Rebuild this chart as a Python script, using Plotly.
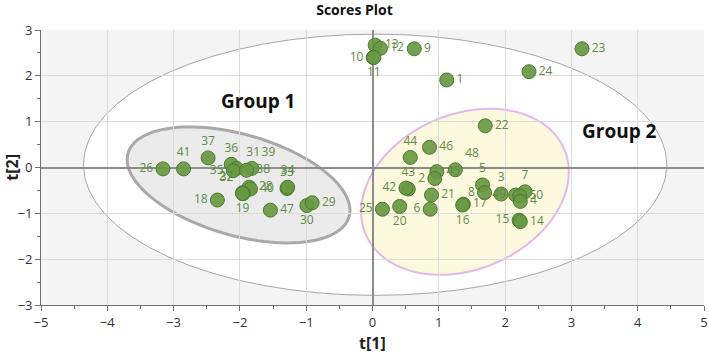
import numpy as np
import plotly.graph_objects as go

# ---- data ----
labels = ["26", "41", "37", "36", "31", "35", "39", "38", "33", "34", "28", "40", "27", "32", "19", "18", "47", "30", "29",
          "22", "44", "46", "48", "45", "2", "43", "42", "21", "25", "20", "6", "17", "16", "5", "8", "3", "49", "7", "50", "4", "15", "14",
          "13", "12", "10", "11", "9", "1", "24", "23"]
t1 = [-3.16, -2.85, -2.48, -2.13, -2.05, -2.10, -1.82, -1.90, -1.29, -1.28, -1.86, -1.84, -1.96, -1.95, -1.96, -2.34, -1.54, -0.99, -0.91,
      1.70, 0.57, 0.86, 1.25, 0.97, 0.94, 0.54, 0.505, 0.89, 0.15, 0.41, 0.87, 1.37, 1.36, 1.66, 1.69, 1.94, 2.16, 2.30, 2.22, 2.23, 2.21, 2.23,
      0.04, 0.12, 0.01, 0.02, 0.63, 1.12, 2.36, 3.16]
t2 = [-0.03, -0.03, 0.21, 0.07, -0.02, -0.07, -0.02, -0.06, -0.46, -0.43, -0.43, -0.47, -0.55, -0.57, -0.57, -0.71, -0.93, -0.83, -0.77,
      0.91, 0.22, 0.44, -0.05, -0.09, -0.24, -0.47, -0.45, -0.60, -0.91, -0.85, -0.91, -0.80, -0.82, -0.38, -0.55, -0.58, -0.60, -0.53, -0.62, -0.74, -1.15, -1.18,
      2.67, 2.60, 2.40, 2.40, 2.59, 1.91, 2.09, 2.59]

x_ticks = [-5, -4, -3, -2, -1, 0, 1, 2, 3, 4, 5]
y_ticks = [-3, -2, -1, 0, 1, 2, 3]

# label placement (style)
text_pos = ["middle left", "top center", "top center", "top center", "top right", "middle left", "top right", "middle right",
            "top center", "top center", "middle right", "middle right", "top left", "top left", "bottom center", "middle left",
            "middle right", "bottom center", "middle right",
            "middle right", "top center", "middle right", "top right", "middle right", "middle left", "top center", "middle left",
            "middle right", "middle left", "bottom center", "middle left", "middle right", "bottom center", "top center",
            "middle left", "top center", "middle left", "top center", "middle right", "middle right", "middle left", "middle right",
            "middle right", "middle right", "middle left", "bottom center", "middle right", "middle right", "middle right", "middle right"]

W, H = 709, 358
ML, MR, MT, MB = 41, 5, 30, 53
px_x = (W - ML - MR) / (x_ticks[-1] - x_ticks[0])
px_y = (H - MT - MB) / (y_ticks[-1] - y_ticks[0])
FONT = "Open Sans, sans-serif"


def ellipse_path(cx, cy, a_px, b_px, ang_deg, n=120):
    th = np.radians(ang_deg)
    t = np.linspace(0, 2 * np.pi, n)
    u = a_px * np.cos(t)
    v = b_px * np.sin(t)
    dx = (u * np.cos(th) - v * np.sin(th)) / px_x
    dy = (u * np.sin(th) + v * np.cos(th)) / px_y
    xs = cx + dx
    ys = cy + dy
    return "M " + " L ".join(f"{x:.4f},{y:.4f}" for x, y in zip(xs, ys)) + " Z"


fig = go.Figure()

fig.add_trace(go.Scatter(
    x=t1, y=t2, mode="markers+text", text=labels, textposition=text_pos,
    marker=dict(size=14, color="rgba(104,152,66,0.92)", line=dict(color="#4b7a30", width=1)),
    textfont=dict(family=FONT, size=12, color="#5f8a45"),
    cliponaxis=False, hoverinfo="skip", showlegend=False,
))

shapes = [
    dict(type="circle", xref="x", yref="y", x0=-4.36, x1=4.44, y0=-2.79, y1=2.91,
         fillcolor="white", line=dict(color="#a6a6a6", width=1), layer="below"),
    dict(type="path", xref="x", yref="y", path=ellipse_path(-2.02, -0.38, 115, 50.5, -16),
         fillcolor="#ebebeb", line=dict(color="#a9a9a9", width=3), layer="below"),
    dict(type="path", xref="x", yref="y", path=ellipse_path(1.395, -0.53, 108, 77.5, 23.3),
         fillcolor="#fcf9df", line=dict(color="#e4b8e8", width=2), layer="below"),
]

annotations = [
    dict(x=-1.72, y=1.46, xref="x", yref="y", text="<b>Group 1</b>", showarrow=False,
         font=dict(family=FONT, size=19, color="#111")),
    dict(x=3.72, y=0.80, xref="x", yref="y", text="<b>Group 2</b>", showarrow=False,
         font=dict(family=FONT, size=19, color="#111")),
    dict(x=0.5, y=-0.138, xref="paper", yref="paper", text="<b>t[1]</b>", showarrow=False,
         font=dict(family=FONT, size=16, color="#222"), yanchor="middle"),
    dict(x=-0.045, y=0.5, xref="paper", yref="paper", text="<b>t[2]</b>", showarrow=False, textangle=-90,
         font=dict(family=FONT, size=16, color="#222"), xanchor="center"),
]

axis_common = dict(
    automargin=False,
    showgrid=True, gridcolor="#dcdcdc", gridwidth=1,
    zeroline=True, zerolinecolor="#8c8c8c", zerolinewidth=2,
    showline=True, linecolor="#707070", linewidth=1,
    ticks="outside", ticklen=5, tickcolor="#707070",
    ticklabeloverflow="allow",
    tickfont=dict(family=FONT, size=13, color="#333"),
    minor=dict(ticks="outside", ticklen=3, tickcolor="#707070", showgrid=False),
)

fig.update_layout(
    width=W, height=H,
    margin=dict(l=ML, r=MR, t=MT, b=MB, autoexpand=False),
    paper_bgcolor="white", plot_bgcolor="#f4f4f4",
    title=dict(text="<b>Scores Plot</b>", x=0.5, xanchor="center", y=0.972, yanchor="middle",
               font=dict(family=FONT, size=14, color="#111")),
    shapes=shapes, annotations=annotations,
    xaxis=dict(range=[x_ticks[0], x_ticks[-1]], tickvals=x_ticks, **axis_common),
    yaxis=dict(range=[y_ticks[0], y_ticks[-1]], tickvals=y_ticks, **axis_common),
)
fig.update_xaxes(minor=dict(dtick=0.5, tick0=0))
fig.update_yaxes(minor=dict(dtick=0.5, tick0=0))

fig.write_html("out.html", config={"displayModeBar": False},
               post_script="document.body.style.margin='0';document.body.style.overflow='hidden';")
